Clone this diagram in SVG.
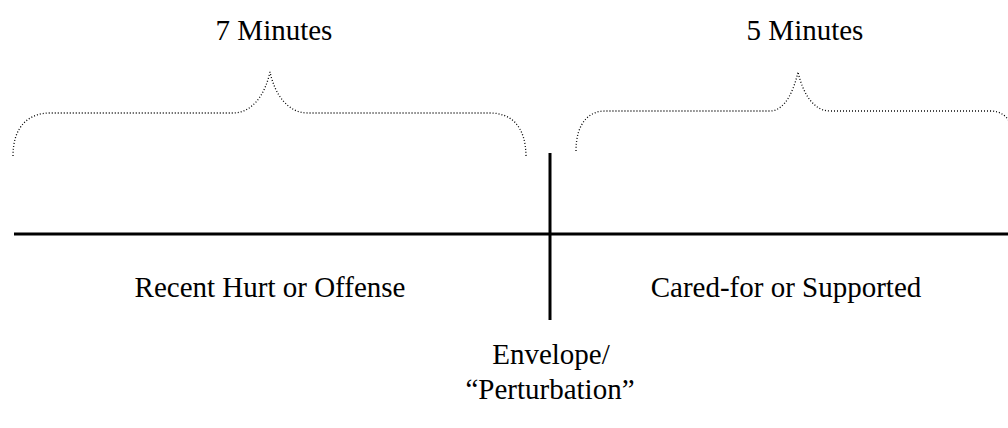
<svg xmlns="http://www.w3.org/2000/svg" width="1008" height="428" viewBox="0 0 1008 428">
<style>
  .t { font-family: "Liberation Serif", "Times New Roman", serif; font-size: 29px; fill: #000; text-anchor: middle; }
  .brace { fill: none; stroke: #000; stroke-width: 1.3; stroke-dasharray: 1 2; }
  .axis { stroke: #000; stroke-width: 3; fill: none; }
</style>
<rect width="1008" height="428" fill="#fff"/>
<g id="connectors">
  <line class="axis" x1="14" y1="234" x2="1008" y2="234"/>
  <line class="axis" x1="550" y1="153" x2="550" y2="320"/>
</g>
<g id="brace-left">
  <path class="brace" d="M13,156 C13,125 30,113 50,113 L233,113 C252,113 265,95 270,72 C275,95 288,113 308,113 L490,113 C510,113 526,125 526,157"/>
  <text class="t" x="274" y="40">7 Minutes</text>
</g>
<g id="brace-right">
  <path class="brace" d="M576,151 C576,122 590,111 605,111 L770,111 C785,111 794,90 798,72 C802,90 812,111 830,111 L990,111 C1000,111 1005,115 1010,122"/>
  <text class="t" x="805" y="40">5 Minutes</text>
</g>
<g id="node-hurt">
  <text class="t" x="270" y="297">Recent Hurt or Offense</text>
</g>
<g id="node-cared">
  <text class="t" x="786" y="297">Cared-for or Supported</text>
</g>
<g id="node-envelope">
  <text class="t" x="551" y="364">Envelope/</text>
  <text class="t" x="550" y="399">“Perturbation”</text>
</g>
</svg>
